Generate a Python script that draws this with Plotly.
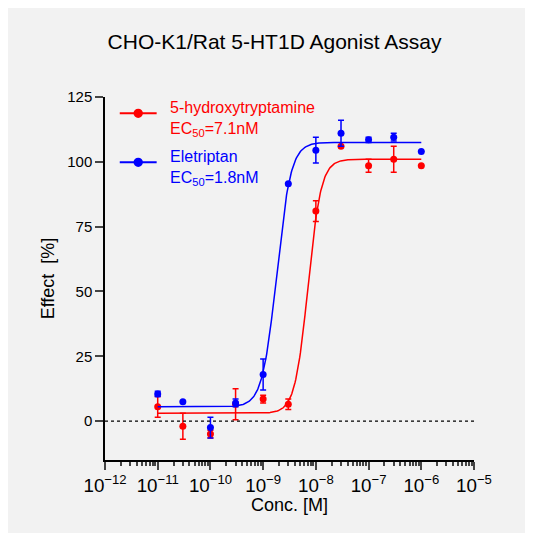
import numpy as np
import plotly.graph_objects as go

conc = [1e-11, 3e-11, 1e-10, 3e-10, 1e-9, 3e-9, 1e-8, 3e-8, 1e-7, 3e-7, 1e-6]
ht_mean = [5.5, -2, -5, 6.5, 8.5, 6.5, 81, 106, 98.5, 101, 98.5]
ht_err = [4, 5, 1.5, 6, 1.5, 2, 4, 0, 2.5, 5, 0]
ele_mean = [10.5, 7.5, -2.5, 7, 18, 91.5, 104.5, 111, 108.5, 109.5, 104]
ele_err = [1, 0, 4, 1.5, 6, 0, 5, 5, 1, 1.5, 0]

# four-parameter fits: bottom, top, EC50, hill
ht_fit = (3, 101, 7.1e-9, 3.5)
ele_fit = (5.5, 107.5, 1.8e-9, 3.2)

RED = "#ff0000"
BLUE = "#0000ff"


def logistic(x, p):
    b, t, ec, h = p
    return b + (t - b) / (1 + (ec / x) ** h)


xs = np.logspace(-11, -6, 400)
fig = go.Figure()
for mean, err, p, col in [(ht_mean, ht_err, ht_fit, RED), (ele_mean, ele_err, ele_fit, BLUE)]:
    fig.add_trace(go.Scatter(x=xs, y=logistic(xs, p), mode="lines",
                             line=dict(color=col, width=1.5), showlegend=False))
    fig.add_trace(go.Scatter(x=conc, y=mean, mode="markers",
                             marker=dict(color=col, size=7),
                             error_y=dict(array=err, color=col, thickness=1.5, width=3),
                             showlegend=False))

fig.add_shape(type="line", xref="x", yref="y", x0=1e-12, x1=1e-5, y0=0, y1=0,
              line=dict(color="black", width=1.2, dash="dot"))

# legend drawn by hand
for yp, col, txt in [(0.955, RED, "5-hydroxytryptamine<br>EC<sub>50</sub>=7.1nM"),
                     (0.82, BLUE, "Eletriptan<br>EC<sub>50</sub>=1.8nM")]:
    fig.add_shape(type="line", xref="paper", yref="paper", x0=0.04, x1=0.14,
                  y0=yp, y1=yp, line=dict(color=col, width=2))
    fig.add_shape(type="circle", xref="paper", yref="paper", x0=0.08, x1=0.10,
                  y0=yp - 0.01, y1=yp + 0.01, fillcolor=col, line=dict(color=col))
    fig.add_annotation(xref="paper", yref="paper", x=0.17, y=yp + 0.045, text=txt,
                       showarrow=False, xanchor="left", yanchor="top", align="left",
                       font=dict(color=col, size=16))

fig.update_layout(
    width=533, height=533,
    margin=dict(l=97, r=67, t=89, b=81),
    paper_bgcolor="#f2f2f2", plot_bgcolor="#f2f2f2",
    font=dict(family="Liberation Sans, Arial", size=15, color="black"),
    title=dict(text="CHO-K1/Rat 5-HT1D Agonist Assay", x=0.5, xanchor="center",
               y=0.95, font=dict(size=21)),
    xaxis=dict(type="log", range=[-12, -5], dtick=1, exponentformat="power",
               showgrid=False, zeroline=False, showline=True, linecolor="black",
               linewidth=1.5, ticks="outside", ticklen=8, tickwidth=1.5,
               minor=dict(ticks="outside", ticklen=4, dtick="D1", showgrid=False),
               title=dict(text="Conc. [M]", standoff=2)),
    yaxis=dict(range=[-15, 125], tickvals=[0, 25, 50, 75, 100, 125],
               showgrid=False, zeroline=False, showline=True, linecolor="black",
               linewidth=1.5, ticks="outside", ticklen=8, tickwidth=1.5,
               title=dict(text="Effect  [%]", standoff=8)),
)
fig.write_html("out.html")
